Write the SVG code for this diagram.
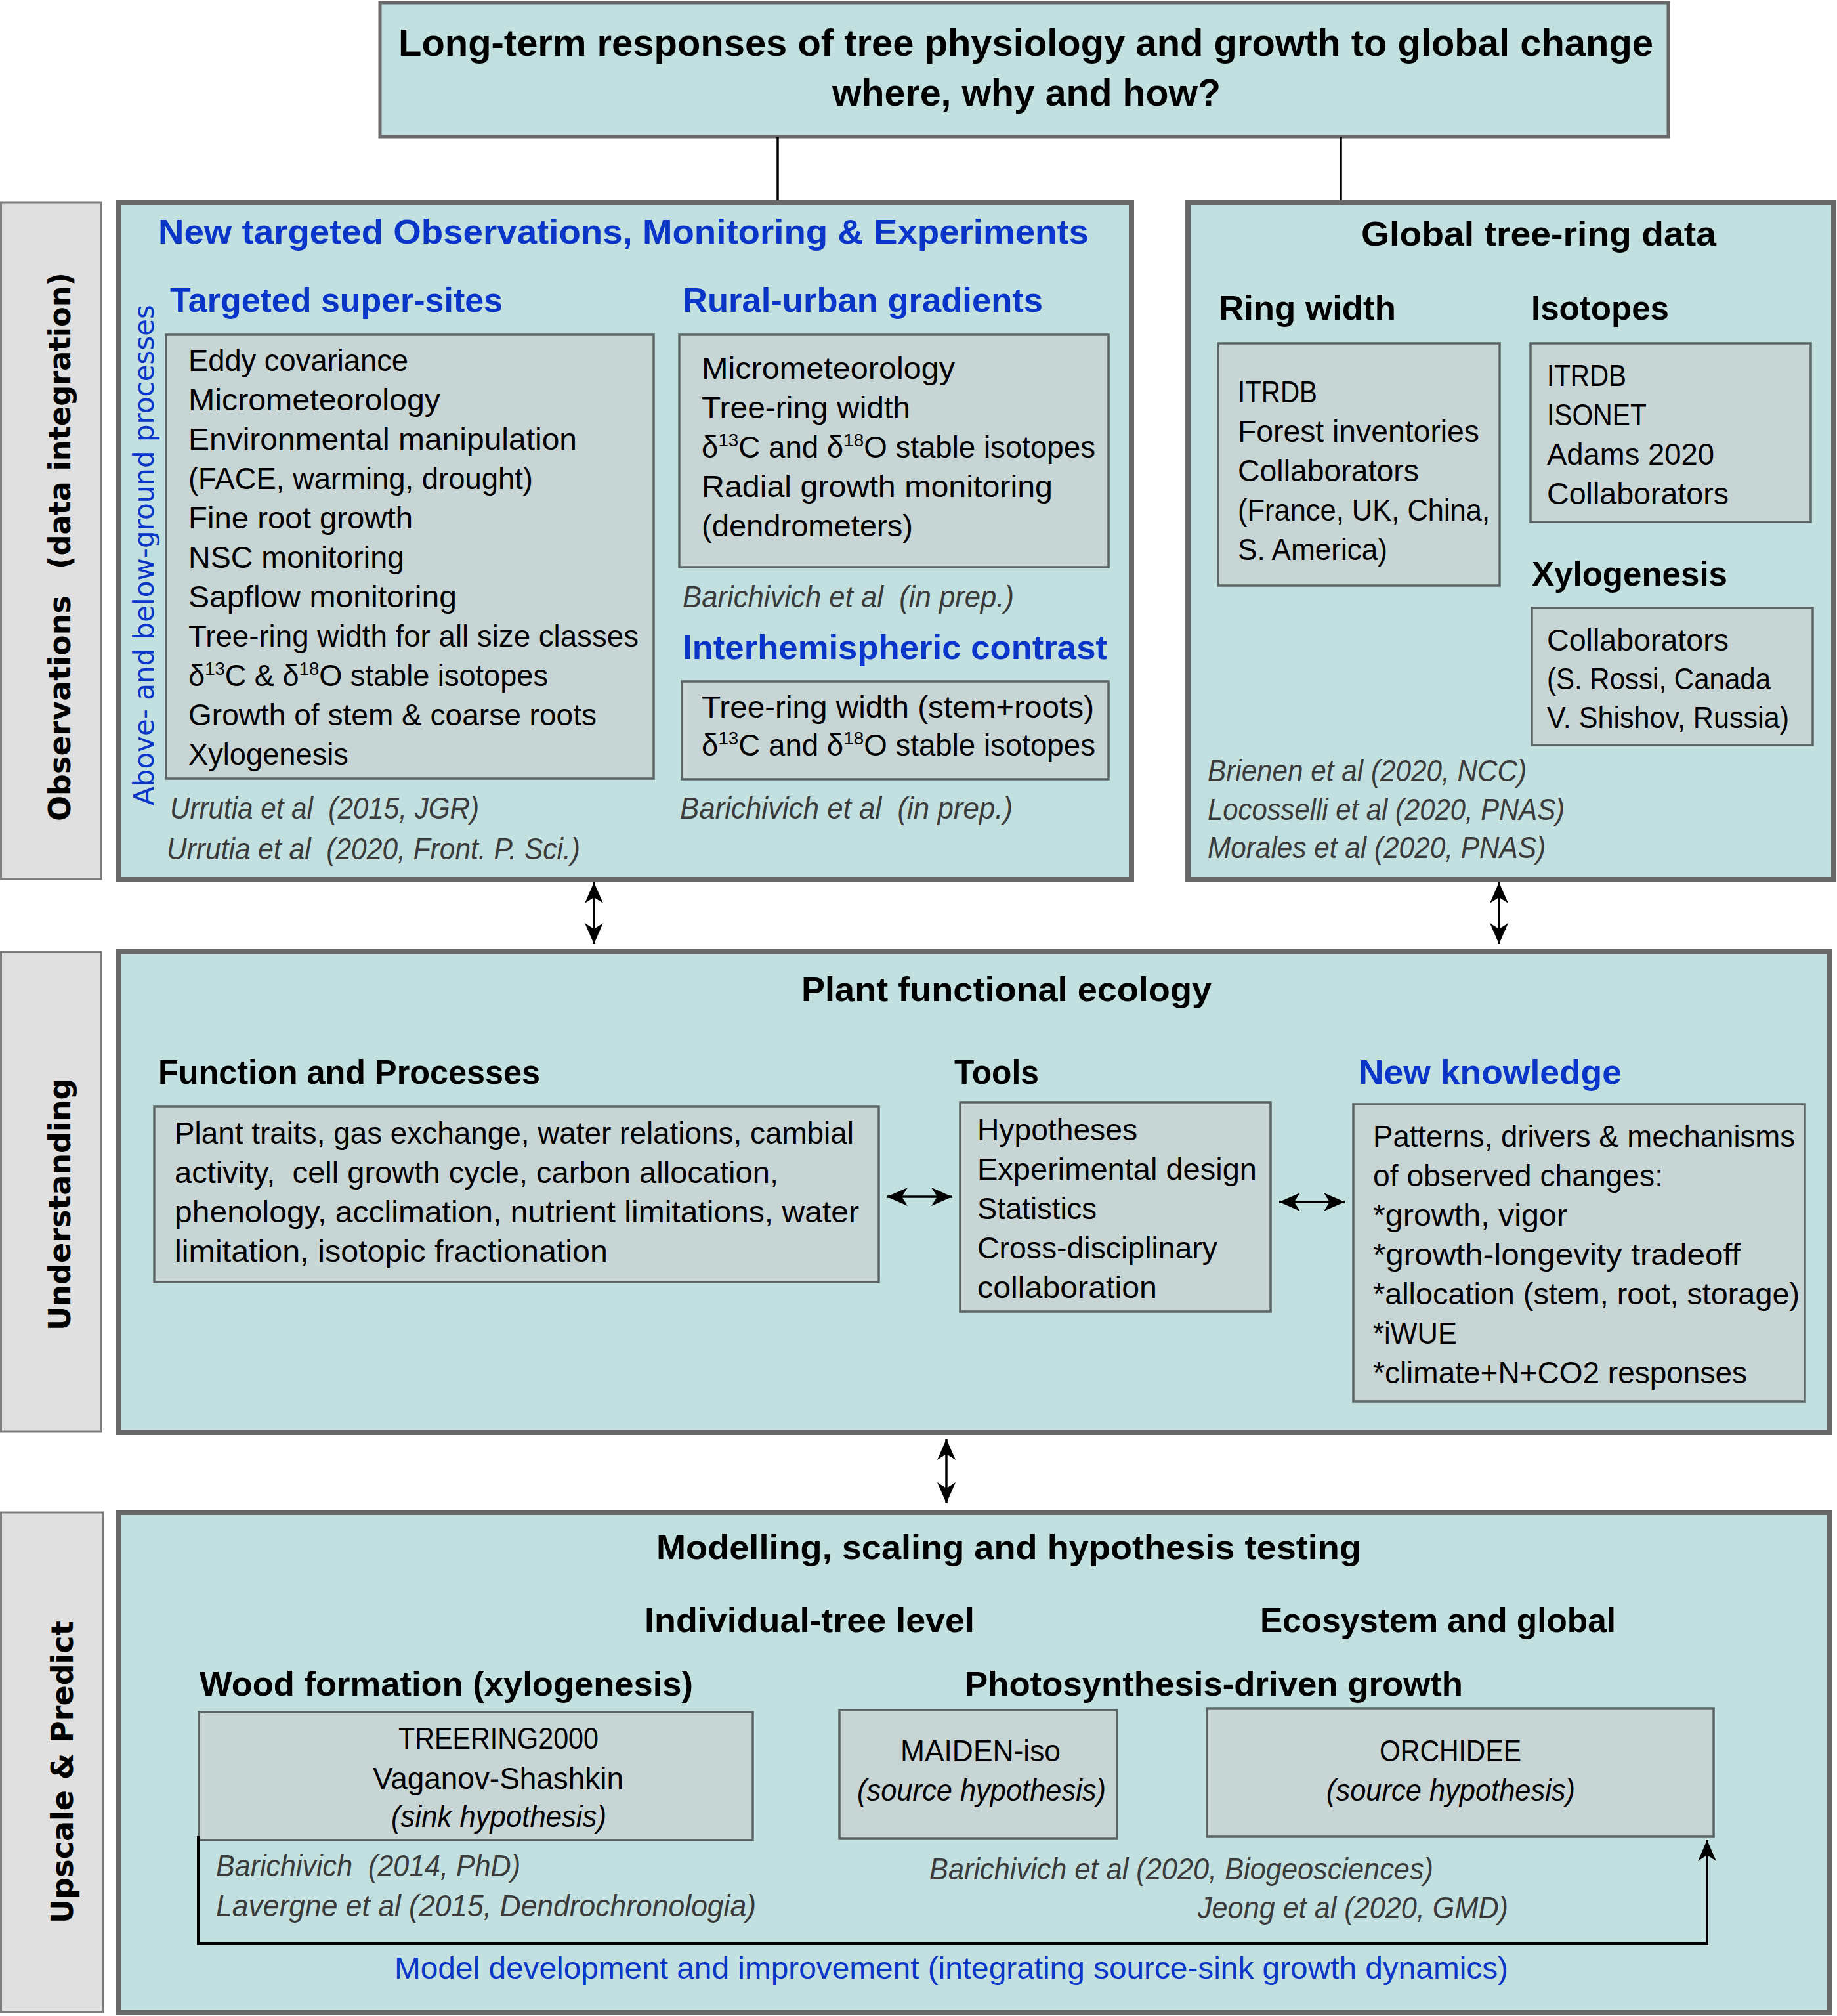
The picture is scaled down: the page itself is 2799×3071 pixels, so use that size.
<svg xmlns="http://www.w3.org/2000/svg" width="2799" height="3071" viewBox="0 0 2799 3071">
<style>
.main{fill:#c2e0e0;stroke:#686868;stroke-width:8}
.inner{fill:#c8d5d5;stroke:#5b6565;stroke-width:3.5}
.lab{fill:#e0e0e0;stroke:#7d7d7d;stroke-width:3}
text{font-family:"Liberation Sans",Arial,sans-serif;font-size:46px;fill:#000}
.b{font-weight:bold;font-size:52px}
.blue{fill:#0a35c9}
.cit{font-style:italic;fill:#3a3a3a}
.v{font-family:"DejaVu Sans",Verdana,sans-serif;font-weight:bold;font-size:46px}
.vb{font-family:"DejaVu Sans",Verdana,sans-serif;font-size:42px;fill:#0a35c9}
.conn{stroke:#000;stroke-width:3.5;fill:none}
.fb{stroke:#000;stroke-width:4;fill:none}
</style>
<defs>
<marker id="ah" viewBox="-34 -16 36 32" refX="0" refY="0" markerWidth="36" markerHeight="32" markerUnits="userSpaceOnUse" orient="auto-start-reverse">
<path d="M0,0 L-32,-14 L-23,0 L-32,14 Z" fill="#000"/>
</marker>
</defs>
<rect width="2799" height="3071" fill="#fff"/>

<g id="labels">
<rect class="lab" x="1.5" y="308" width="153" height="1031"/>
<text class="v" transform="translate(107,1251) rotate(-90)">Observations</text>
<text class="v" transform="translate(107,867) rotate(-90)" textLength="452" lengthAdjust="spacingAndGlyphs">(data integration)</text>
<rect class="lab" x="1.5" y="1450" width="153" height="731"/>
<text class="v" transform="translate(107,2027) rotate(-90)">Understanding</text>
<rect class="lab" x="1.5" y="2304" width="156" height="761"/>
<text class="v" transform="translate(111,2930) rotate(-90)">Upscale &amp; Predict</text>
</g>

<g id="title">
<rect x="579" y="4" width="1963" height="204" fill="#c2e0e0" stroke="#686868" stroke-width="5"/>
<text class="b" x="607" y="85" style="font-size:58px" textLength="1912" lengthAdjust="spacingAndGlyphs">Long-term responses of tree physiology and growth to global change</text>
<text class="b" x="1268" y="161" style="font-size:58px" textLength="592" lengthAdjust="spacingAndGlyphs">where, why and how?</text>
</g>

<g id="observations">
<rect class="main" x="180" y="308" width="1544" height="1032"/>
<text class="b blue" x="241" y="371" textLength="1418" lengthAdjust="spacingAndGlyphs">New targeted Observations, Monitoring &amp; Experiments</text>
<text class="vb" transform="translate(234,1227) rotate(-90)" textLength="763" lengthAdjust="spacingAndGlyphs">Above- and below-ground processes</text>
<g id="super-sites">
<text class="b blue" x="259" y="475" textLength="507" lengthAdjust="spacingAndGlyphs">Targeted super-sites</text>
<rect class="inner" x="253" y="510" width="743" height="676"/>
<text x="287" y="565" textLength="335" lengthAdjust="spacingAndGlyphs">Eddy covariance</text>
<text x="287" y="625" textLength="384" lengthAdjust="spacingAndGlyphs">Micrometeorology</text>
<text x="287" y="685" textLength="592" lengthAdjust="spacingAndGlyphs">Environmental manipulation</text>
<text x="287" y="745" textLength="525" lengthAdjust="spacingAndGlyphs">(FACE, warming, drought)</text>
<text x="287" y="805" textLength="342" lengthAdjust="spacingAndGlyphs">Fine root growth</text>
<text x="287" y="865" textLength="329" lengthAdjust="spacingAndGlyphs">NSC monitoring</text>
<text x="287" y="925" textLength="409" lengthAdjust="spacingAndGlyphs">Sapflow monitoring</text>
<text x="287" y="985" textLength="686" lengthAdjust="spacingAndGlyphs">Tree-ring width for all size classes</text>
<text x="287" y="1045" textLength="548" lengthAdjust="spacingAndGlyphs">δ<tspan style="font-size:28px" dy="-17">13</tspan><tspan dy="17">C &amp; δ</tspan><tspan style="font-size:28px" dy="-17">18</tspan><tspan dy="17">O stable isotopes</tspan></text>
<text x="287" y="1105" textLength="622" lengthAdjust="spacingAndGlyphs">Growth of stem &amp; coarse roots</text>
<text x="287" y="1165" textLength="244" lengthAdjust="spacingAndGlyphs">Xylogenesis</text>
<text class="cit" x="259" y="1247" textLength="471" lengthAdjust="spacingAndGlyphs">Urrutia et al &#160;(2015, JGR)</text>
<text class="cit" x="254" y="1309" textLength="630" lengthAdjust="spacingAndGlyphs">Urrutia et al &#160;(2020, Front. P. Sci.)</text>
</g>
<g id="rural-urban">
<text class="b blue" x="1040" y="475" textLength="549" lengthAdjust="spacingAndGlyphs">Rural-urban gradients</text>
<rect class="inner" x="1035" y="510" width="654" height="354"/>
<text x="1069" y="577" textLength="386" lengthAdjust="spacingAndGlyphs">Micrometeorology</text>
<text x="1069" y="637" textLength="318" lengthAdjust="spacingAndGlyphs">Tree-ring width</text>
<text x="1069" y="697" textLength="600" lengthAdjust="spacingAndGlyphs">δ<tspan style="font-size:28px" dy="-17">13</tspan><tspan dy="17">C and δ</tspan><tspan style="font-size:28px" dy="-17">18</tspan><tspan dy="17">O stable isotopes</tspan></text>
<text x="1069" y="757" textLength="535" lengthAdjust="spacingAndGlyphs">Radial growth monitoring</text>
<text x="1069" y="817" textLength="322" lengthAdjust="spacingAndGlyphs">(dendrometers)</text>
<text class="cit" x="1040" y="925" textLength="505" lengthAdjust="spacingAndGlyphs">Barichivich et al &#160;(in prep.)</text>
</g>
<g id="interhemispheric">
<text class="b blue" x="1040" y="1004" textLength="647" lengthAdjust="spacingAndGlyphs">Interhemispheric contrast</text>
<rect class="inner" x="1039" y="1038" width="650" height="149"/>
<text x="1069" y="1093" textLength="598" lengthAdjust="spacingAndGlyphs">Tree-ring width (stem+roots)</text>
<text x="1069" y="1151" textLength="600" lengthAdjust="spacingAndGlyphs">δ<tspan style="font-size:28px" dy="-17">13</tspan><tspan dy="17">C and δ</tspan><tspan style="font-size:28px" dy="-17">18</tspan><tspan dy="17">O stable isotopes</tspan></text>
<text class="cit" x="1036" y="1247" textLength="507" lengthAdjust="spacingAndGlyphs">Barichivich et al &#160;(in prep.)</text>
</g>
</g>

<g id="global">
<rect class="main" x="1810" y="308" width="984" height="1032"/>
<text class="b" x="2074" y="374" textLength="541" lengthAdjust="spacingAndGlyphs">Global tree-ring data</text>
<g id="ring-width">
<text class="b" x="1857" y="487" textLength="270" lengthAdjust="spacingAndGlyphs">Ring width</text>
<rect class="inner" x="1856" y="523" width="429" height="369"/>
<text x="1886" y="613" textLength="121" lengthAdjust="spacingAndGlyphs">ITRDB</text>
<text x="1886" y="673" textLength="368" lengthAdjust="spacingAndGlyphs">Forest inventories</text>
<text x="1886" y="733" textLength="276" lengthAdjust="spacingAndGlyphs">Collaborators</text>
<text x="1886" y="793" textLength="384" lengthAdjust="spacingAndGlyphs">(France, UK, China,</text>
<text x="1886" y="853" textLength="228" lengthAdjust="spacingAndGlyphs">S. America)</text>
</g>
<g id="isotopes">
<text class="b" x="2333" y="487" textLength="210" lengthAdjust="spacingAndGlyphs">Isotopes</text>
<rect class="inner" x="2332" y="523" width="427" height="272"/>
<text x="2357" y="588" textLength="121" lengthAdjust="spacingAndGlyphs">ITRDB</text>
<text x="2357" y="648" textLength="152" lengthAdjust="spacingAndGlyphs">ISONET</text>
<text x="2357" y="708" textLength="255" lengthAdjust="spacingAndGlyphs">Adams 2020</text>
<text x="2357" y="768" textLength="277" lengthAdjust="spacingAndGlyphs">Collaborators</text>
</g>
<g id="xylogenesis">
<text class="b" x="2334" y="892" textLength="298" lengthAdjust="spacingAndGlyphs">Xylogenesis</text>
<rect class="inner" x="2334" y="926" width="428" height="209"/>
<text x="2357" y="991" textLength="277" lengthAdjust="spacingAndGlyphs">Collaborators</text>
<text x="2357" y="1050" textLength="341" lengthAdjust="spacingAndGlyphs">(S. Rossi, Canada</text>
<text x="2357" y="1109" textLength="369" lengthAdjust="spacingAndGlyphs">V. Shishov, Russia)</text>
</g>
<text class="cit" x="1840" y="1190" textLength="486" lengthAdjust="spacingAndGlyphs">Brienen et al (2020, NCC)</text>
<text class="cit" x="1840" y="1249" textLength="544" lengthAdjust="spacingAndGlyphs">Locosselli et al (2020, PNAS)</text>
<text class="cit" x="1840" y="1307" textLength="515" lengthAdjust="spacingAndGlyphs">Morales et al (2020, PNAS)</text>
</g>

<g id="understanding">
<rect class="main" x="180" y="1450" width="2608" height="732"/>
<text class="b" x="1221" y="1525" textLength="625" lengthAdjust="spacingAndGlyphs">Plant functional ecology</text>
<g id="function">
<text class="b" x="241" y="1651" textLength="582" lengthAdjust="spacingAndGlyphs">Function and Processes</text>
<rect class="inner" x="235" y="1686" width="1104" height="267"/>
<text x="266" y="1742" textLength="1035" lengthAdjust="spacingAndGlyphs">Plant traits, gas exchange, water relations, cambial</text>
<text x="266" y="1802" textLength="920" lengthAdjust="spacingAndGlyphs">activity, &#160;cell growth cycle, carbon allocation,</text>
<text x="266" y="1862" textLength="1043" lengthAdjust="spacingAndGlyphs">phenology, acclimation, nutrient limitations, water</text>
<text x="266" y="1922" textLength="660" lengthAdjust="spacingAndGlyphs">limitation, isotopic fractionation</text>
</g>
<g id="tools">
<text class="b" x="1454" y="1651" textLength="129" lengthAdjust="spacingAndGlyphs">Tools</text>
<rect class="inner" x="1463" y="1679" width="473" height="319"/>
<text x="1489" y="1737" textLength="244" lengthAdjust="spacingAndGlyphs">Hypotheses</text>
<text x="1489" y="1797" textLength="426" lengthAdjust="spacingAndGlyphs">Experimental design</text>
<text x="1489" y="1857" textLength="182" lengthAdjust="spacingAndGlyphs">Statistics</text>
<text x="1489" y="1917" textLength="366" lengthAdjust="spacingAndGlyphs">Cross-disciplinary</text>
<text x="1489" y="1977" textLength="274" lengthAdjust="spacingAndGlyphs">collaboration</text>
</g>
<g id="knowledge">
<text class="b blue" x="2070" y="1651" textLength="401" lengthAdjust="spacingAndGlyphs">New knowledge</text>
<rect class="inner" x="2062" y="1682" width="688" height="453"/>
<text x="2092" y="1747" textLength="643" lengthAdjust="spacingAndGlyphs">Patterns, drivers &amp; mechanisms</text>
<text x="2092" y="1807" textLength="442" lengthAdjust="spacingAndGlyphs">of observed changes:</text>
<text x="2092" y="1867" textLength="296" lengthAdjust="spacingAndGlyphs">*growth, vigor</text>
<text x="2092" y="1927" textLength="560" lengthAdjust="spacingAndGlyphs">*growth-longevity tradeoff</text>
<text x="2092" y="1987" textLength="650" lengthAdjust="spacingAndGlyphs">*allocation (stem, root, storage)</text>
<text x="2092" y="2047" textLength="128" lengthAdjust="spacingAndGlyphs">*iWUE</text>
<text x="2092" y="2107" textLength="570" lengthAdjust="spacingAndGlyphs">*climate+N+CO2 responses</text>
</g>
</g>

<g id="modelling">
<rect class="main" x="180" y="2304" width="2608" height="762"/>
<text class="b" x="1000" y="2375" textLength="1074" lengthAdjust="spacingAndGlyphs">Modelling, scaling and hypothesis testing</text>
<text class="b" x="982" y="2486" textLength="503" lengthAdjust="spacingAndGlyphs">Individual-tree level</text>
<text class="b" x="1920" y="2486" textLength="542" lengthAdjust="spacingAndGlyphs">Ecosystem and global</text>
<g id="treering">
<text class="b" x="304" y="2583" textLength="752" lengthAdjust="spacingAndGlyphs">Wood formation (xylogenesis)</text>
<rect class="inner" x="303" y="2608" width="844" height="195"/>
<text x="607" y="2664" textLength="305" lengthAdjust="spacingAndGlyphs">TREERING2000</text>
<text x="568" y="2725" textLength="382" lengthAdjust="spacingAndGlyphs">Vaganov-Shashkin</text>
<text class="cit" x="596" y="2783" style="fill:#000" textLength="328" lengthAdjust="spacingAndGlyphs">(sink hypothesis)</text>
<text class="cit" x="329" y="2858" textLength="464" lengthAdjust="spacingAndGlyphs">Barichivich &#160;(2014, PhD)</text>
<text class="cit" x="329" y="2919" textLength="823" lengthAdjust="spacingAndGlyphs">Lavergne et al (2015, Dendrochronologia)</text>
</g>
<text class="b" x="1470" y="2583" textLength="759" lengthAdjust="spacingAndGlyphs">Photosynthesis-driven growth</text>
<g id="maiden">
<rect class="inner" x="1279" y="2605" width="423" height="196"/>
<text x="1372" y="2683" textLength="244" lengthAdjust="spacingAndGlyphs">MAIDEN-iso</text>
<text class="cit" x="1306" y="2743" style="fill:#000" textLength="379" lengthAdjust="spacingAndGlyphs">(source hypothesis)</text>
</g>
<g id="orchidee">
<rect class="inner" x="1839" y="2603" width="772" height="195"/>
<text x="2102" y="2683" textLength="216" lengthAdjust="spacingAndGlyphs">ORCHIDEE</text>
<text class="cit" x="2021" y="2743" style="fill:#000" textLength="379" lengthAdjust="spacingAndGlyphs">(source hypothesis)</text>
</g>
<text class="cit" x="1416" y="2863" textLength="768" lengthAdjust="spacingAndGlyphs">Barichivich et al (2020, Biogeosciences)</text>
<text class="cit" x="1825" y="2922" textLength="473" lengthAdjust="spacingAndGlyphs">Jeong et al (2020, GMD)</text>
<text class="blue" x="601" y="3014" textLength="1697" lengthAdjust="spacingAndGlyphs">Model development and improvement (integrating source-sink growth dynamics)</text>
</g>

<g id="connectors">
<line class="conn" x1="1185" y1="208" x2="1185" y2="305"/>
<line class="conn" x1="2043" y1="208" x2="2043" y2="305"/>
<line class="conn" x1="905" y1="1344" x2="905" y2="1438" marker-start="url(#ah)" marker-end="url(#ah)"/>
<line class="conn" x1="2284" y1="1344" x2="2284" y2="1438" marker-start="url(#ah)" marker-end="url(#ah)"/>
<line class="conn" x1="1442" y1="2192" x2="1442" y2="2290" marker-start="url(#ah)" marker-end="url(#ah)"/>
<line class="conn" x1="1351" y1="1823" x2="1451" y2="1823" marker-start="url(#ah)" marker-end="url(#ah)"/>
<line class="conn" x1="1949" y1="1831" x2="2049" y2="1831" marker-start="url(#ah)" marker-end="url(#ah)"/>
<path class="fb" d="M302,2797 L302,2961 L2601,2961 L2601,2803" marker-end="url(#ah)"/>
</g>
</svg>
